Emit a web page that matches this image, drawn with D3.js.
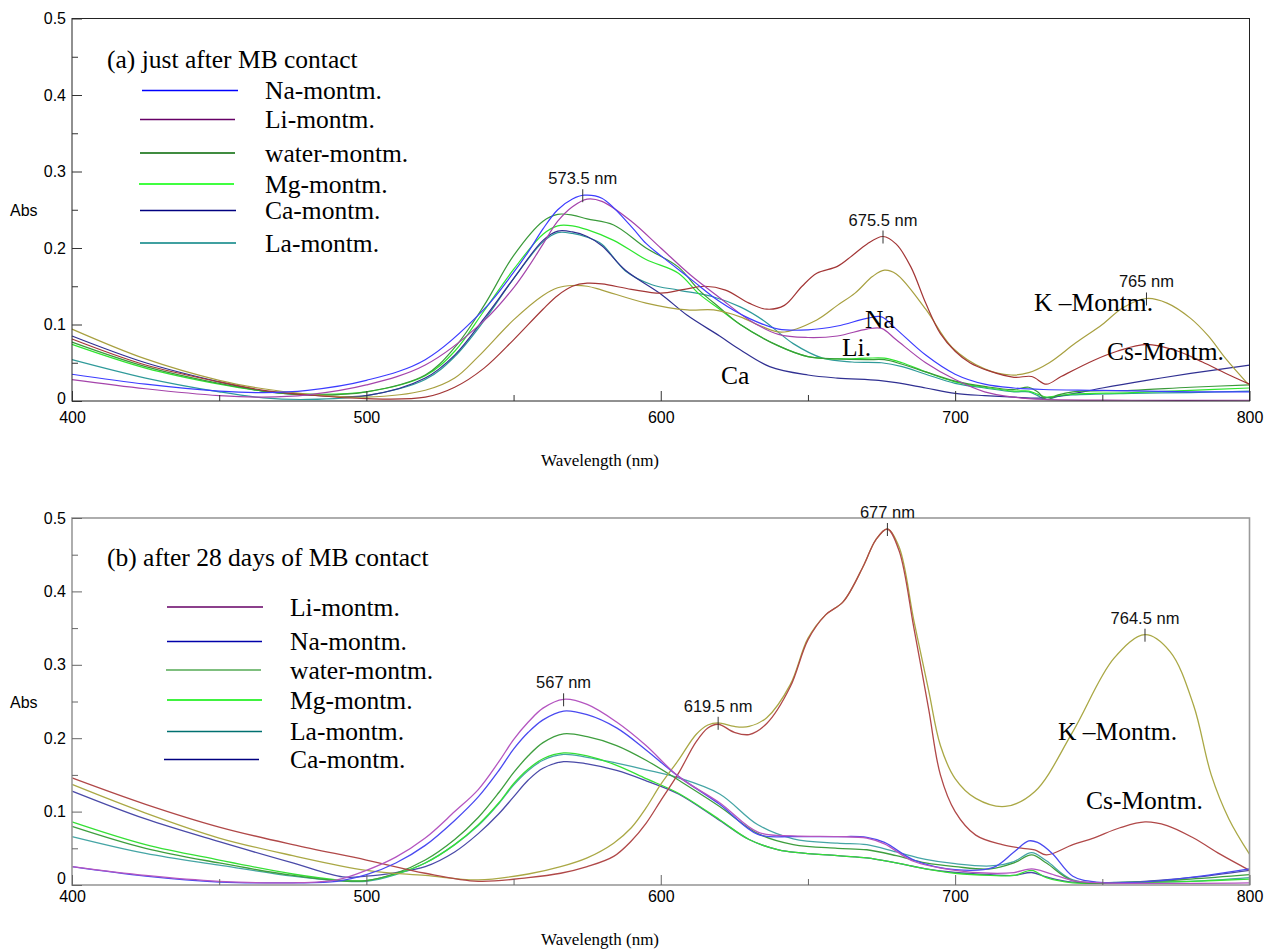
<!DOCTYPE html>
<html><head><meta charset="utf-8">
<script src="https://cdn.jsdelivr.net/npm/d3@7"></script>
<style>
body{margin:0;background:#fff;}
svg{display:block;}
</style></head><body>
<svg id="c" width="1264" height="949"></svg>
<script>
// ---------- DATA: [wavelength (nm), absorbance] ----------
// Panel (a): just after MB contact
const aNa = [[400,.035],[425,.022],[450,.013],[465,.011],[480,.014],[500,.027],[520,.054],[540,.12],[550,.168],[555,.195],[560,.225],[565,.25],[570,.264],[574,.269],[580,.265],[590,.228],[595,.206],[600,.19],[610,.16],[620,.13],[630,.108],[640,.094],[650,.093],[660,.098],[670,.108],[675,.11],[680,.094],[690,.06],[700,.035],[710,.022],[720,.017],[730,.015],[750,.014],[780,.012],[800,.012]];
const aLi = [[400,.028],[425,.016],[450,.007],[465,.005],[480,.008],[500,.021],[520,.047],[540,.105],[550,.148],[555,.175],[560,.205],[565,.235],[570,.254],[575,.264],[580,.261],[590,.235],[600,.2],[610,.165],[620,.135],[630,.106],[640,.087],[650,.083],[660,.085],[670,.094],[675,.095],[680,.08],[690,.05],[700,.028],[710,.012],[720,.005],[730,.002],[760,.001],[800,.001]];
const aWater = [[400,.077],[425,.045],[450,.023],[465,.013],[480,.008],[500,.012],[520,.034],[530,.07],[540,.125],[550,.19],[560,.235],[565,.244],[570,.243],[575,.238],[584,.23],[595,.2],[606,.175],[613,.145],[620,.122],[627,.1],[640,.072],[650,.058],[660,.055],[670,.054],[676,.054],[682,.048],[690,.038],[700,.026],[710,.019],[720,.015],[725,.018],[728,.012],[731,.002],[735,.008],[740,.012],[760,.014],[780,.018],[800,.021]];
const aMg = [[400,.074],[425,.043],[450,.022],[465,.013],[480,.009],[500,.012],[520,.033],[530,.065],[540,.118],[550,.172],[560,.218],[565,.229],[570,.229],[575,.224],[584,.21],[595,.185],[606,.167],[613,.14],[620,.12],[627,.1],[640,.072],[650,.058],[660,.055],[670,.056],[676,.056],[682,.05],[690,.038],[700,.025],[710,.018],[720,.013],[725,.013],[728,.009],[731,.005],[735,.007],[740,.009],[760,.011],[780,.014],[800,.017]];
const aCa = [[400,.085],[425,.05],[450,.025],[465,.013],[480,.008],[500,.007],[520,.03],[530,.06],[540,.108],[550,.16],[560,.21],[565,.222],[570,.221],[575,.215],[580,.203],[588,.171],[600,.14],[609,.112],[620,.085],[627,.067],[637,.045],[650,.034],[660,.03],[674,.027],[680,.024],[690,.017],[700,.01],[710,.007],[720,.005],[730,.004],[738,.008],[750,.017],[765,.027],[780,.036],[800,.047]];
const aLa = [[400,.054],[425,.03],[450,.012],[465,.004],[480,.002],[500,.007],[520,.028],[530,.058],[540,.105],[550,.16],[560,.208],[565,.22],[570,.219],[575,.214],[580,.205],[588,.17],[597,.152],[606,.145],[618,.136],[627,.123],[635,.105],[645,.075],[655,.056],[665,.051],[675,.05],[682,.045],[690,.035],[700,.023],[710,.017],[720,.012],[725,.012],[728,.007],[731,.002],[735,.006],[740,.008],[760,.01],[780,.011],[800,.013]];
const aK = [[400,.094],[425,.055],[450,.027],[465,.016],[480,.009],[500,.005],[520,.014],[530,.03],[538,.058],[550,.106],[560,.138],[565,.148],[570,.151],[575,.15],[580,.145],[595,.128],[609,.119],[618,.119],[627,.11],[634,.098],[641,.09],[653,.106],[660,.125],[666,.141],[672,.163],[676,.171],[680,.166],[690,.12],[699,.07],[710,.042],[719,.034],[725,.037],[732,.05],[741,.076],[750,.1],[757,.122],[765,.134],[772,.128],[780,.108],[786,.085],[792,.055],[800,.02]];
const aCs = [[400,.081],[425,.047],[450,.025],[465,.014],[480,.008],[500,.003],[520,.005],[530,.018],[540,.043],[550,.08],[560,.12],[565,.138],[570,.15],[575,.154],[580,.153],[590,.146],[600,.141],[608,.146],[615,.15],[622,.145],[630,.128],[636,.12],[642,.125],[648,.15],[653,.167],[660,.176],[665,.19],[670,.205],[675.5,.215],[680,.205],[685,.175],[690,.128],[695,.088],[700,.065],[705,.05],[711,.04],[720,.031],[726,.032],[731,.022],[736,.032],[747,.053],[755,.065],[765,.074],[775,.066],[784,.051],[792,.036],[800,.022]];

// Panel (b): after 28 days of MB contact
const bLi = [[400,.025],[425,.013],[450,.005],[475,.003],[490,.007],[500,.02],[510,.038],[520,.064],[530,.1],[538,.13],[545,.168],[550,.198],[555,.222],[560,.241],[567,.253],[575,.246],[585,.222],[595,.19],[606,.148],[620,.112],[633,.072],[645,.067],[660,.066],[670,.064],[676,.056],[686,.032],[700,.02],[712,.016],[720,.017],[726,.022],[732,.016],[740,.006],[750,.003],[800,.003]];
const bNa = [[400,.025],[425,.012],[450,.004],[475,.003],[490,.005],[500,.014],[510,.03],[520,.054],[530,.088],[538,.12],[545,.156],[550,.185],[555,.208],[560,.225],[567,.237],[575,.232],[585,.214],[595,.184],[606,.148],[620,.11],[633,.069],[645,.066],[660,.066],[670,.065],[676,.058],[686,.034],[700,.021],[713,.024],[720,.045],[725,.06],[728,.058],[733,.043],[740,.012],[748,.004],[770,.006],[800,.022]];
const bWater = [[400,.08],[425,.05],[450,.03],[475,.013],[490,.006],[500,.006],[510,.016],[520,.034],[530,.062],[538,.092],[545,.126],[550,.153],[555,.176],[560,.194],[567,.206],[575,.202],[585,.19],[595,.17],[606,.143],[620,.107],[633,.07],[645,.055],[660,.05],[670,.048],[680,.04],[690,.03],[700,.025],[712,.022],[720,.03],[726,.041],[731,.03],[740,.006],[760,.004],[780,.008],[800,.014]];
const bMg = [[400,.086],[425,.055],[450,.034],[475,.015],[490,.007],[500,.006],[510,.015],[520,.03],[530,.055],[538,.082],[545,.112],[550,.138],[555,.158],[560,.172],[567,.18],[575,.176],[585,.163],[595,.145],[606,.125],[620,.089],[630,.062],[640,.048],[660,.04],[670,.037],[680,.03],[690,.022],[700,.016],[712,.013],[720,.013],[726,.02],[731,.01],[740,.003],[760,.003],[780,.005],[800,.008]];
const bLa = [[400,.066],[425,.043],[450,.027],[475,.012],[490,.006],[500,.005],[510,.014],[520,.03],[530,.055],[538,.081],[545,.111],[550,.136],[555,.156],[560,.17],[567,.178],[575,.174],[585,.166],[595,.157],[606,.146],[620,.124],[633,.082],[645,.063],[660,.057],[670,.055],[680,.045],[690,.035],[700,.029],[712,.026],[720,.032],[726,.044],[731,.033],[740,.007],[760,.004],[780,.005],[800,.01]];
const bCa = [[400,.128],[425,.09],[450,.059],[475,.03],[492,.011],[500,.012],[510,.017],[520,.025],[530,.045],[538,.07],[545,.097],[550,.12],[555,.143],[560,.159],[567,.168],[575,.165],[585,.156],[595,.142],[606,.124],[620,.088],[630,.062],[640,.048],[660,.04],[670,.037],[680,.03],[690,.022],[700,.017],[712,.014],[720,.013],[726,.017],[731,.011],[740,.004],[760,.004],[780,.01],[800,.02]];
const bK = [[400,.137],[425,.098],[450,.064],[475,.04],[500,.02],[520,.013],[538,.007],[555,.015],[566,.025],[575,.037],[584,.057],[590,.078],[595,.105],[600,.137],[606,.17],[612,.205],[616,.218],[619.5,.221],[625,.216],[630,.216],[636,.228],[644,.273],[650,.336],[656,.368],[662,.386],[669,.436],[673,.47],[677,.485],[681,.46],[686,.36],[691,.265],[695,.19],[700,.145],[707,.118],[717,.107],[727,.127],[740,.209],[754,.309],[764.5,.341],[773,.318],[781,.245],[787,.15],[793,.09],[800,.042]];
const bCs = [[400,.146],[425,.11],[450,.079],[475,.055],[500,.034],[520,.016],[538,.005],[555,.01],[566,.016],[575,.025],[584,.039],[590,.06],[595,.084],[600,.115],[606,.152],[612,.195],[616,.214],[619.5,.219],[625,.208],[630,.205],[636,.22],[644,.27],[650,.334],[656,.368],[662,.386],[669,.436],[673,.47],[677,.485],[681,.455],[686,.35],[691,.24],[695,.15],[700,.1],[707,.068],[716,.055],[723,.05],[727,.048],[731,.041],[740,.055],[747,.064],[756,.078],[764.5,.086],[772,.081],[781,.064],[790,.042],[800,.02]];

// Legend entries and tick values
const legendA = ["Na-montm.","Li-montm.","water-montm.","Mg-montm.","Ca-montm.","La-montm."];
const legendB = ["Li-montm.","Na-montm.","water-montm.","Mg-montm.","La-montm.","Ca-montm."];
const xMajor = [400,500,600,700,800];
const xMinor = [450,550,650,750];
const yMajor = [0,0.1,0.2,0.3,0.4,0.5];
const yMinor = [0.05,0.15,0.25,0.35,0.45];
// Peak markers [wavelength, absorbance, label]
const peaksA = [[573.5,.269,"573.5 nm"],[675.5,.215,"675.5 nm"],[765,.134,"765 nm"]];
const peaksB = [[567,.253,"567 nm"],[619.5,.221,"619.5 nm"],[677,.485,"677 nm"],[764.5,.341,"764.5 nm"]];

// ---------- DRAWING ----------
const svg = d3.select("#c");
const SANS = "'Liberation Sans', Arial, sans-serif";
const SERIF = "'Liberation Serif', 'Times New Roman', serif";

function panel(o){
  const x = d3.scaleLinear().domain([400,800]).range([72,1249.5]);
  const y = d3.scaleLinear().domain([0,0.5]).range([o.bottom,o.top]);
  const g = svg.append("g");
  // curves
  const line = d3.line().x(d=>x(d[0])).y(d=>y(d[1])).curve(d3.curveCatmullRom.alpha(0.5));
  o.series.forEach(s=>{
    g.append("path").datum(s.data).attr("d",line).attr("fill","none")
      .attr("stroke",s.color).attr("stroke-width",o.lw).attr("stroke-linejoin","round");
  });
  // frame
  g.append("rect").attr("x",x(400)).attr("y",y(0.5)).attr("width",x(800)-x(400)).attr("height",y(0)-y(0.5))
    .attr("fill","none").attr("stroke",o.frame).attr("stroke-width",o.frameW);
  // axes (ticks inside)
  const xa = g.append("g").attr("transform",`translate(0,${y(0)})`)
    .call(d3.axisBottom(x).tickValues(xMajor).tickSize(-10).tickPadding(o.xPad).tickFormat(d3.format("d")));
  const xm = g.append("g").attr("transform",`translate(0,${y(0)})`)
    .call(d3.axisBottom(x).tickValues(xMinor).tickSize(-6).tickFormat(""));
  const ya = g.append("g").attr("transform",`translate(${x(400)},0)`)
    .call(d3.axisLeft(y).tickValues(yMajor).tickSize(-10).tickPadding(6).tickFormat(d=>d===0?"0":d3.format(".1f")(d)));
  const ym = g.append("g").attr("transform",`translate(${x(400)},0)`)
    .call(d3.axisLeft(y).tickValues(yMinor).tickSize(-6).tickFormat(""));
  [xa,xm,ya,ym].forEach(a=>{
    a.select(".domain").remove();
    a.selectAll("line").attr("stroke",o.tickC).attr("stroke-width",1);
    a.selectAll("text").attr("font-family",SANS).attr("font-size",16).attr("fill","#000");
  });
  ya.selectAll(".tick").filter(d=>d===0).select("text").attr("dy",o.zeroDy);
  // axis titles
  g.append("text").attr("x",10).attr("y",(y(0.2)+y(0.3))/2+6).text("Abs")
    .attr("font-family",SANS).attr("font-size",16);
  g.append("text").attr("x",600).attr("y",o.xTitleY).attr("text-anchor","middle").text("Wavelength (nm)")
    .attr("font-family",SERIF).attr("font-size",17);
  // peaks
  o.peaks.forEach(p=>{
    const px = x(p[0]), py = y(p[1]);
    g.append("line").attr("x1",px).attr("x2",px).attr("y1",py-6).attr("y2",py+7)
      .attr("stroke","#333").attr("stroke-width",1);
    g.append("text").attr("x",px).attr("y",py-11).attr("text-anchor","middle").text(p[2])
      .attr("font-family",SANS).attr("font-size",16.5).attr("fill","#111");
  });
  // title & legend
  g.append("text").attr("x",107).attr("y",o.titleY).text(o.title)
    .attr("font-family",SERIF).attr("font-size",25.5);
  o.legend.forEach((name,i)=>{
    const ly = o.legY[i];
    g.append("line").attr("x1",o.legX1[i]).attr("x2",o.legX2[i]).attr("y1",ly).attr("y2",ly)
      .attr("stroke",o.legColors[i]).attr("stroke-width",1.3);
    g.append("text").attr("x",o.legTX).attr("y",ly+8.5).text(name)
      .attr("font-family",SERIF).attr("font-size",25.5);
  });
  o.notes.forEach(n=>{
    g.append("text").attr("x",n[1]).attr("y",n[2]).text(n[0])
      .attr("font-family",SERIF).attr("font-size",25.5);
  });
}

panel({
  top:18.5, bottom:401, lw:1.2, frame:"#222", frameW:1, tickC:"#333", xPad:11, xTitleY:466, zeroDy:"0.15em",
  series:[
    {data:aLa,color:"#2f9a9a"},{data:aCa,color:"#303092"},{data:aMg,color:"#2ee62e"},
    {data:aWater,color:"#3a9a3a"},{data:aK,color:"#a8a040"},{data:aCs,color:"#a33636"},
    {data:aLi,color:"#a544ab"},{data:aNa,color:"#3c3cff"}
  ],
  peaks:peaksA,
  title:"(a) just after MB contact", titleY:68,
  legend:legendA, legY:[90.5,119.5,153,184,210.5,243],
  legX1:[142,140,140,139,140,140], legX2:[238,235,235,234,236,236], legTX:265,
  legColors:["#0000ff","#660066","#006600","#00ff00","#000080","#008080"],
  notes:[["Na",865,328],["Li.",842,356],["Ca",721,384],["K \u2013Montm.",1034,311],["Cs-Montm.",1107,360]]
});
panel({
  top:518, bottom:885, lw:1.3, frame:"#9a9a9a", frameW:1.6, tickC:"#666", xPad:6, xTitleY:945, zeroDy:"-0.1em",
  series:[
    {data:bCa,color:"#4a4aa8"},{data:bLa,color:"#45a5a5"},{data:bMg,color:"#35e035"},
    {data:bWater,color:"#3e9e3e"},{data:bK,color:"#aaa845"},{data:bCs,color:"#b04848"},
    {data:bNa,color:"#4a4af0"},{data:bLi,color:"#b455c0"}
  ],
  peaks:peaksB,
  title:"(b) after 28 days of MB contact", titleY:566,
  legend:legendB, legY:[607,641.5,670,700,731.5,759.5],
  legX1:[167,167,166,167,167,164], legX2:[263,262,261,262,262,259], legTX:290,
  legColors:["#660066","#0000aa","#55aa55","#00ee00","#007070","#000080"],
  notes:[["K \u2013Montm.",1058,740],["Cs-Montm.",1086,809]]
});
</script>
</body></html>
